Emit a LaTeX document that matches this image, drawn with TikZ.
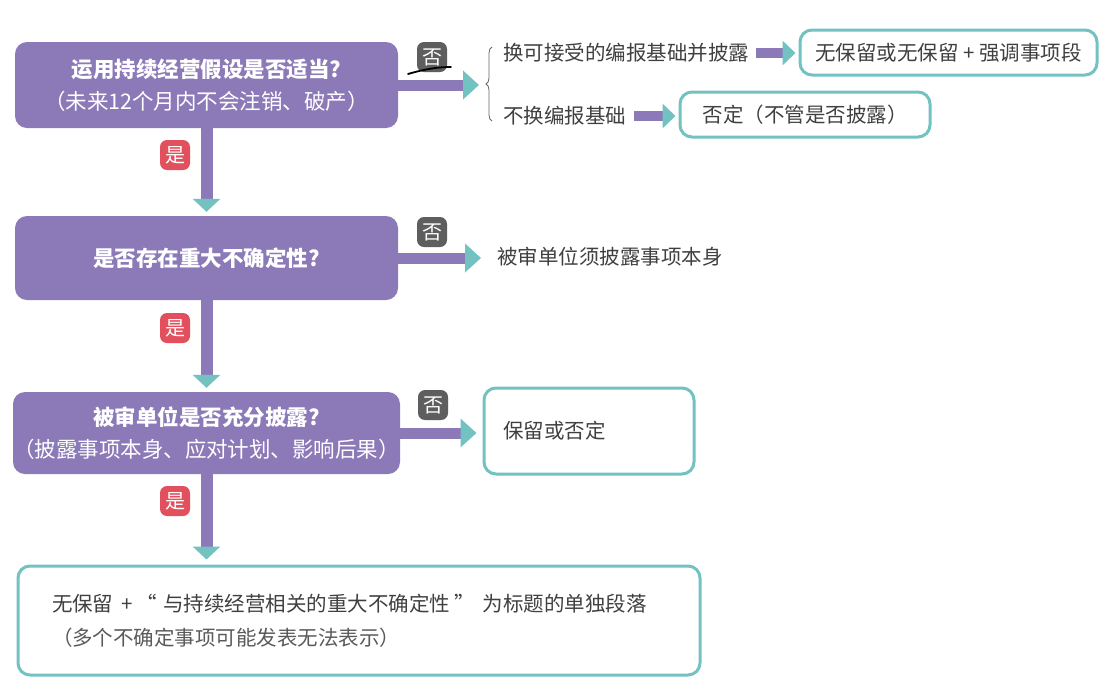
\documentclass[tikz,border=0pt]{standalone}
\usepackage{fontspec}
\setmainfont{Noto Sans CJK SC}
\usetikzlibrary{arrows.meta,decorations.pathreplacing}
\definecolor{pur}{HTML}{8C7AB8}
\definecolor{tealc}{HTML}{72C2C2}
\definecolor{badgegray}{HTML}{5E5E5E}
\definecolor{badgered}{HTML}{E2505E}
\definecolor{txt}{HTML}{404040}
\definecolor{txtlight}{HTML}{5A5A5A}
\newcommand{\fs}[1]{\fontsize{#1}{#1}\selectfont}
\tikzset{
  qbox/.style={fill=pur, rounded corners=12pt, minimum width=383pt,
    text=white, align=center, inner sep=0pt, font=\fontsize{21.5}{32}\selectfont},
  rbox/.style={draw=tealc, line width=3pt, rounded corners=12pt, fill=white,
    text=txt, inner sep=0pt, font=\fontsize{20.5}{34}\selectfont},
  plain/.style={text=txt, inner sep=0pt, font=\fs{20.5}},
  badge/.style={text=white, rounded corners=7pt, minimum width=30pt,
    minimum height=30pt, inner sep=0pt, font=\fs{20}},
  nobadge/.style={badge, fill=badgegray},
  yesbadge/.style={badge, fill=badgered},
  hflow/.style={draw=pur, line width=11pt,
    -{Triangle[color=tealc, length=16pt, width=28pt]}},
  vflow/.style={draw=pur, line width=12pt,
    -{Triangle[color=tealc, length=13pt, width=27pt]}},
  sflow/.style={draw=pur, line width=10pt,
    -{Triangle[color=tealc, length=13pt, width=24pt]}},
}
\begin{document}
\begin{tikzpicture}[x=1pt,y=-1pt]
\useasboundingbox[fill=white] (0,0) rectangle (1120,689);

% decision boxes
\node[qbox, minimum height=86pt] (b1) at (206.5,85)
  {\bfseries 运用持续经营假设是否适当?\\（未来12个月内不会注销、破产）};
\node[qbox, minimum height=84pt] (b2) at (206.5,258)
  {\bfseries 是否存在重大不确定性?};
\node[qbox, minimum height=82pt] (b3) at (206.5,433)
  {\bfseries 被审单位是否充分披露?\\（披露事项本身、应对计划、影响后果）};

% outcome boxes
\node[rbox, minimum width=297pt, minimum height=45pt] (r1a) at (948.5,52.5)
  {无保留或无保留 + 强调事项段};
\node[rbox, minimum width=250pt, minimum height=45pt] (r1b) at (805,114.5)
  {否定（不管是否披露）};
\node[rbox, minimum width=210pt, minimum height=86pt, text width=172pt,
  align=left] (r3) at (589,431) {保留或否定};
\node[rbox, minimum width=682pt, minimum height=109pt, text width=614pt,
  align=left] (r4) at (359,620.5)
  {无保留\hspace{8pt}+\hspace{4pt}“\hspace{6pt}与持续经营相关的重大不确定性\hspace{4pt}”\hspace{8pt}为标题的单独段落\\
   {\color{txtlight}（多个不确定事项可能发表无法表示）}};

% plain texts
\node[plain, anchor=west] (t1a) at (503,53) {换可接受的编报基础并披露};
\node[plain, anchor=west] (t1b) at (503,116) {不换编报基础};
\node[plain, anchor=west] (t2) at (497,257) {被审单位须披露事项本身};

% connector ends
\coordinate (e1) at (479,85);
\coordinate (e2) at (481,258);

% horizontal flows
\draw[hflow] (b1.east |- e1) -- (e1);
\draw[hflow] (b2.east) -- (e2);
\draw[hflow, shorten >=6pt] (b3.east) -- (b3.east -| r3.west);
\draw[sflow, shorten <=7pt, shorten >=3pt] (t1a.east) -- (t1a.east -| r1a.west);
\draw[sflow, shorten <=8pt, shorten >=3pt] (t1b.east) -- (t1b.east -| r1b.west);

% vertical flows
\draw[vflow, shorten >=4pt] (b1.south) -- (b2.north);
\draw[vflow, shorten >=4pt] (b2.south) -- (b3.north);
\draw[vflow, shorten >=5pt] (b3.south) -- (r4.north -| b3.south);

% brace for the two options
\draw[txt!80, line width=0.8pt, decorate,
  decoration={brace, amplitude=6pt, aspect=0.5}] (492,121) -- (492,47);

% badges
\node[nobadge] (n1) at (432,57) {否};
\node[nobadge] (n2) at (432,232) {否};
\node[nobadge] (n3) at (433,405) {否};
\node[yesbadge] (y1) at (175,155) {是};
\node[yesbadge] (y2) at (175,328) {是};
\node[yesbadge] (y3) at (175,501) {是};

% pen stroke under the first badge
\draw[black, line width=1.8pt, line cap=round]
  (408,74) .. controls (425,69) and (438,67) .. (451,67);
\end{tikzpicture}
\end{document}
